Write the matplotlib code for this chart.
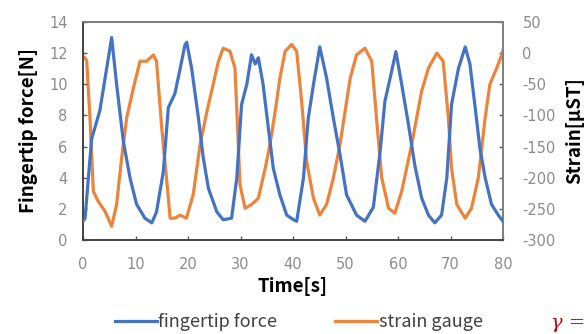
#!/usr/bin/env python3
#
# plot.py - fingertip force vs strain gauge output over time
#

import matplotlib
matplotlib.use('Agg')
import matplotlib.pyplot as plt

#%%============================================================================
# Data
#==============================================================================
# fingertip force [N]
t_force = [0.0, 0.4, 0.9, 1.65, 3.2, 4.5, 5.46, 6.4, 7.7, 8.95, 10.2, 11.8,
           13.1, 14.0, 15.3, 16.25, 17.5, 18.5, 19.4, 19.75, 20.7, 22.0,
           22.9, 23.9, 25.5, 26.7, 28.3, 29.3, 30.2, 31.2, 32.1, 32.8, 33.4,
           34.3, 35.3, 36.25, 37.5, 38.8, 40.1, 40.7, 42.0, 42.9, 43.9, 45.1,
           46.4, 47.7, 48.95, 50.2, 52.1, 53.7, 55.3, 56.6, 57.5, 58.5, 59.6,
           60.7, 62.0, 63.2, 64.5, 65.8, 67.0, 68.3, 69.3, 70.2, 71.5, 72.8,
           73.7, 74.7, 75.6, 76.6, 77.8, 79.1, 80.0]
force = [1.2, 1.4, 3.5, 6.5, 8.3, 11.0, 13.0, 10.0, 6.3, 4.0, 2.3, 1.4,
         1.1, 1.8, 4.4, 8.5, 9.4, 11.0, 12.5, 12.7, 11.0, 7.8,
         5.3, 3.3, 1.8, 1.3, 1.4, 4.0, 8.7, 10.0, 11.9, 11.3, 11.7,
         10.0, 7.2, 4.6, 2.9, 1.6, 1.3, 1.2, 4.0, 7.8, 10.0, 12.4,
         10.4, 7.8, 5.5, 2.9, 1.6, 1.2, 2.1, 5.7, 8.9, 10.4, 12.1,
         10.0, 7.4, 4.8, 2.7, 1.6, 1.1, 1.6, 4.0, 8.7, 11.0, 12.4,
         11.3, 8.5, 5.9, 4.0, 2.3, 1.6, 1.2]

# strain gauge [micro strain]
t_strain = [0.0, 0.4, 0.7, 1.33, 1.97, 2.9, 4.2, 5.46, 6.4, 7.37, 8.32, 9.6,
            10.86, 12.1, 13.4, 14.0, 15.0, 15.9, 16.6, 17.5, 18.5, 19.7,
            21.0, 22.3, 23.6, 24.8, 25.8, 26.7, 28.0, 28.95, 29.5, 29.9,
            30.86, 32.1, 33.4, 34.7, 35.6, 36.6, 37.5, 38.5, 39.75, 40.7,
            41.65, 42.6, 43.9, 45.1, 46.4, 47.7, 48.95, 50.2, 50.9, 52.1,
            53.7, 55.0, 55.9, 56.9, 58.2, 59.4, 60.7, 62.6, 64.5, 65.8, 67.4,
            68.6, 69.6, 70.2, 71.2, 72.8, 74.0, 75.3, 76.6, 77.5, 78.8, 79.75,
            80.0]
strain = [-5, -8, -12, -104, -222, -238, -254, -278, -243, -168, -104, -56,
          -13, -13, -3, -13, -120, -200, -265, -265, -260, -265,
          -227, -147, -94, -50, -13, 8, 3, -24, -131, -211,
          -249, -243, -233, -185, -147, -94, -40, 3, 14, 3,
          -78, -174, -233, -260, -243, -200, -147, -78, -40, -3,
          8, -13, -104, -200, -249, -257, -222, -147, -61, -24, 0,
          -13, -104, -185, -243, -265, -249, -200, -104, -50, -24, -3,
          5]

xticks = [0, 10, 20, 30, 40, 50, 60, 70, 80]
yticks_left = [0, 2, 4, 6, 8, 10, 12, 14]
yticks_right = [-300, -250, -200, -150, -100, -50, 0, 50]

#%%============================================================================
# Plotting
#==============================================================================
blue = '#4472C4'
orange = '#ED7D31'
tick_col = '#8c8c8c'
jp = ['Noto Sans CJK JP', 'DejaVu Sans']

plt.rcParams['axes.unicode_minus'] = False

f1 = plt.figure(figsize=(5.86, 3.34), dpi=100)
ax1 = f1.add_axes([83/586, 1 - 240/334, 420/586, 218/334])
ax2 = ax1.twinx()

l1, = ax1.plot(t_force, force, color=blue, lw=2.3, label='fingertip force',
               zorder=3)
l2, = ax2.plot(t_strain, strain, color=orange, lw=2.3, label='strain gauge',
               alpha=0.95)
ax1.set_zorder(ax2.get_zorder() + 1)
ax1.patch.set_visible(False)

ax1.set_xlim(0, 80)
ax1.set_ylim(0, 14)
ax2.set_ylim(-300, 50)
ax1.set_xticks(xticks)
ax1.set_yticks(yticks_left)
ax2.set_yticks(yticks_right)

for ax in (ax1, ax2):
    ax.tick_params(direction='in', length=3, width=1, colors='#595959',
                   labelcolor=tick_col, labelsize=10.5)
    for s in ax.spines.values():
        s.set_color('#808080')
        s.set_linewidth(1.3)
ax1.spines['left'].set_color('#404040')
ax1.spines['bottom'].set_color('#404040')
ax1.tick_params(axis='y', pad=11)
ax1.tick_params(axis='x', pad=12)
ax2.tick_params(axis='y', pad=14)

ax1.set_xlabel('Time[s]', fontsize=13.5, fontweight='bold', family=jp,
               labelpad=4)
ax1.set_ylabel('Fingertip force[N]', fontsize=13.5, fontweight='bold',
               family=jp, labelpad=8)
ax2.set_ylabel('Strain[\u03bcST]', fontsize=13.5, fontweight='bold',
               family=jp, labelpad=7)

leg = f1.legend(handles=[l1, l2], loc='center', bbox_to_anchor=(0.51, 0.035),
                ncol=2, frameon=False, handlelength=2.3,
                handletextpad=0.1, columnspacing=3.2,
                prop={'family': jp, 'size': 13})
for txt in leg.get_texts():
    txt.set_color('#404040')

f1.text(0.998, 0.005, '\u03b3 =', color='#C00000', fontsize=14,
        style='italic', family='DejaVu Serif', va='bottom', ha='right')

f1.savefig('out.png', dpi=100)
